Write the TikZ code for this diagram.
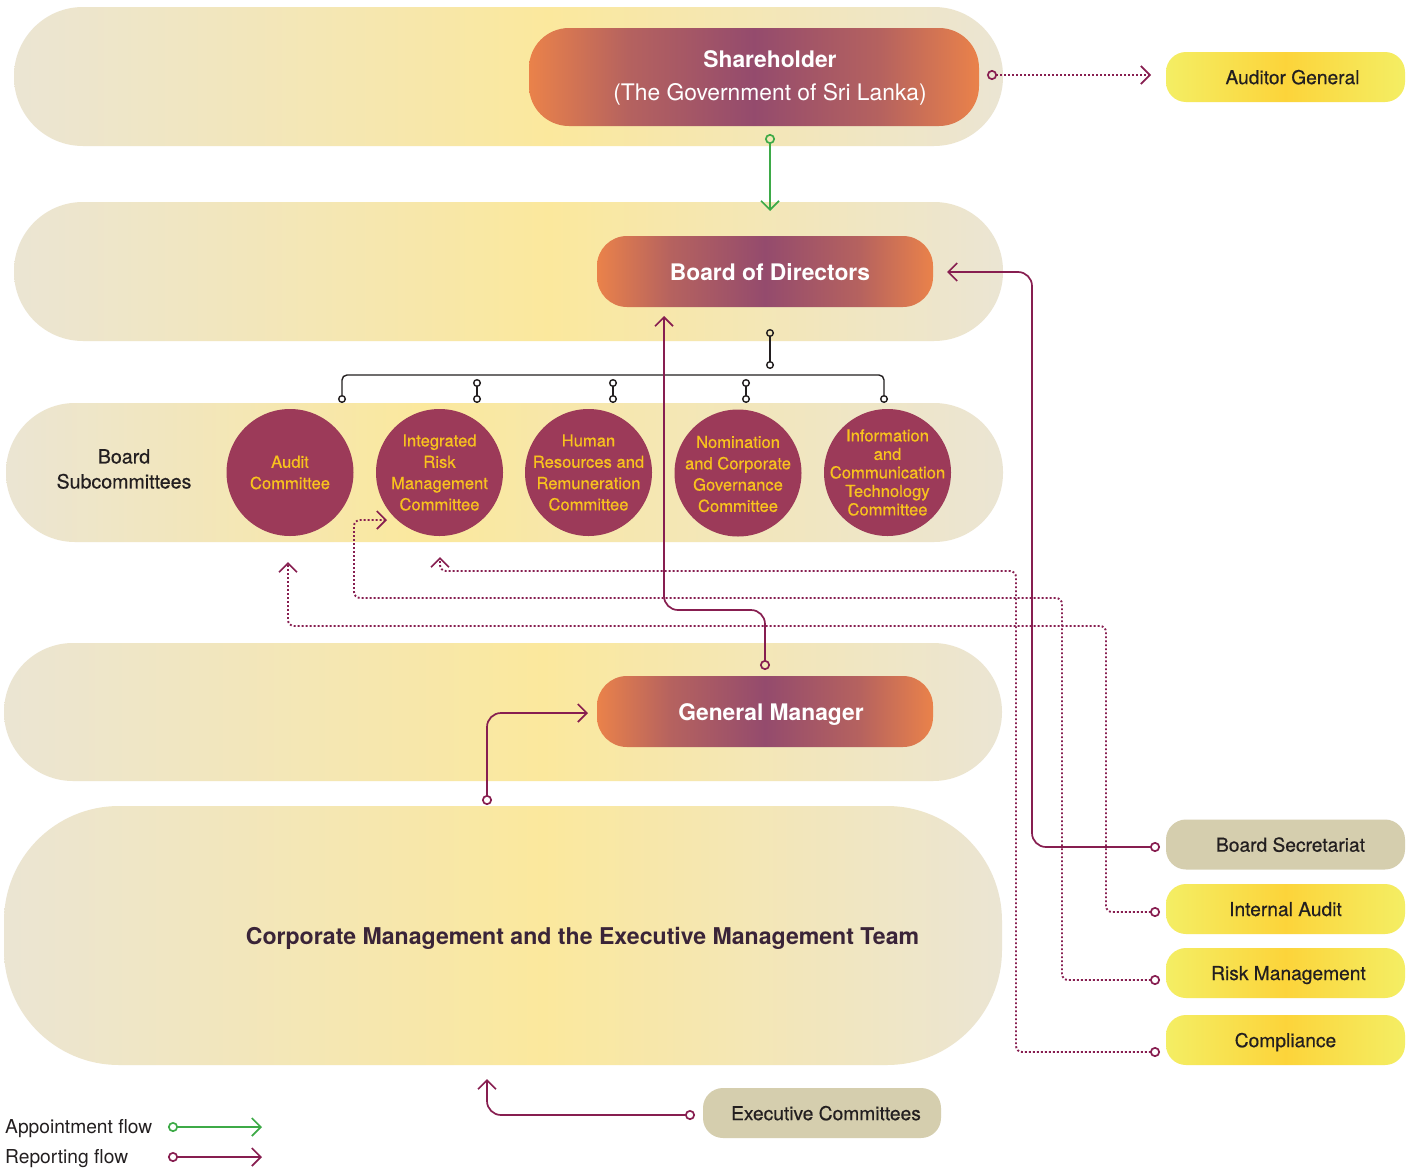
\documentclass[tikz,border=0pt]{standalone}
\usepackage{fontspec}
\setmainfont{TeX Gyre Heros}
\newfontfamily\mediumfont[FakeBold=0.45]{TeX Gyre Heros}
\usetikzlibrary{arrows.meta}

\definecolor{bandBeige}{HTML}{EBE5D3}
\definecolor{bandYel}{HTML}{FBE89D}
\definecolor{pillOrange}{HTML}{EA824A}
\definecolor{pillMauve}{HTML}{B5625F}
\definecolor{pillPurple}{HTML}{944B6D}
\definecolor{ylwEdge}{HTML}{F4EE64}
\definecolor{ylwMid}{HTML}{FCD43A}
\definecolor{boxTan}{HTML}{D5CEAE}
\definecolor{commFill}{HTML}{9C3A59}
\definecolor{commText}{HTML}{F8C21E}
\definecolor{flowMaroon}{HTML}{871E50}
\definecolor{flowGreen}{HTML}{3DAA47}
\definecolor{ink}{HTML}{231F20}
\definecolor{inkPurple}{HTML}{3A2438}

\pgfdeclarehorizontalshading{bandshade}{100bp}{color(0bp)=(bandBeige); color(25bp)=(bandBeige); color(52bp)=(bandYel); color(75bp)=(bandBeige); color(100bp)=(bandBeige)}
\pgfdeclarehorizontalshading{bandshadeL}{100bp}{color(0bp)=(bandBeige); color(25bp)=(bandBeige); color(46bp)=(bandYel); color(75bp)=(bandBeige); color(100bp)=(bandBeige)}
\pgfdeclarehorizontalshading{pillshade}{100bp}{color(0bp)=(pillOrange); color(25bp)=(pillOrange); color(36bp)=(pillMauve); color(50bp)=(pillPurple); color(64bp)=(pillMauve); color(75bp)=(pillOrange); color(100bp)=(pillOrange)}
\pgfdeclarehorizontalshading{ylwshade}{100bp}{color(0bp)=(ylwEdge); color(25bp)=(ylwEdge); color(50bp)=(ylwMid); color(75bp)=(ylwEdge); color(100bp)=(ylwEdge)}

\tikzset{
  band/.style={shade, shading=bandshade, rounded corners=69},
  pill/.style={shade, shading=pillshade, inner sep=0pt},
  pilltext/.style={text=white, inner sep=0pt, align=center,
    font=\fontsize{22.8}{33}\selectfont\bfseries},
  ybox/.style={shade, shading=ylwshade, rounded corners=20, minimum width=239,
    minimum height=50, inner sep=0pt, text depth=0pt, text=ink,
    font=\fontsize{19.2}{22}\mediumfont},
  tbox/.style={fill=boxTan, rounded corners=20, minimum width=239,
    minimum height=50, inner sep=0pt, text depth=0pt, text=ink,
    font=\fontsize{19.2}{22}\mediumfont},
  commcircle/.style={circle, fill=commFill, minimum size=127, inner sep=0pt},
  commtext/.style={text=commText, align=center, inner sep=0pt,
    font=\fontsize{16.6}{21.3}\mediumfont},
  rep/.style={draw=flowMaroon, line width=1.7pt, rounded corners=14,
    {Circle[open,length=10pt,width=10pt]}-{Straight Barb[length=9pt,width=18pt]}},
  dotrep/.style={draw=flowMaroon, line width=1.9pt, dash pattern=on 1.9pt off 2.1pt,
    rounded corners=6,
    {Circle[open,length=10pt,width=10pt,line width=1.7pt]}-{Straight Barb[length=9pt,width=18pt,line width=1.7pt]}},
  appoint/.style={draw=flowGreen, line width=1.7pt,
    {Circle[open,length=10pt,width=10pt]}-{Straight Barb[length=9pt,width=18pt]}},
  link/.style={draw=ink, line width=1.4pt, rounded corners=5,
    {Circle[open,length=8pt,width=8pt]}-{Circle[open,length=8pt,width=8pt]}},
  legendtext/.style={anchor=west, text=ink, font=\fontsize{19.2}{22}\selectfont, inner sep=0pt},
}

\begin{document}
\begin{tikzpicture}[x=1pt,y=-1pt]
\useasboundingbox (0,0) rectangle (1413,1170);
\fill[white] (0,0) rectangle (1413,1170);

% background bands
\path[band] (14,7) rectangle (1003,146);
\path[band] (14,202) rectangle (1003,341);
\path[band, shading=bandshadeL] (6,403) rectangle (1003,542);
\path[band] (4,643) rectangle (1002,781);
\path[band, rounded corners=115] (4,806) rectangle (1002,1065);

% main bodies
\node[pill, minimum width=450, minimum height=98, rounded corners=40] (sh) at (754,77) {};
\node[pilltext] (shText) at (770,78) {Shareholder\\{\mdseries (The Government of Sri Lanka)}};
\node[pill, minimum width=336, minimum height=71, rounded corners=30] (bod) at (765,271.5) {};
\node[pilltext] (bodText) at (770,272) {Board of Directors};
\node[pill, minimum width=336, minimum height=71, rounded corners=30] (gm) at (765,711.5) {};
\node[pilltext] (gmText) at (771,715) {General Manager};

% side functions
\node[ybox] (ag) at (1285.5,77) {\hspace*{14pt}Auditor General};
\node[tbox] (bs) at (1285.5,844.5) {\hspace*{10pt}Board Secretariat};
\node[ybox] (ia) at (1285.5,909) {Internal Audit};
\node[ybox] (rm) at (1285.5,973) {\hspace*{6pt}Risk Management};
\node[ybox] (co) at (1285.5,1040) {Compliance};
\node[tbox, minimum width=238] (ec) at (822,1113) {\hspace*{8pt}Executive Committees};

% subcommittees
\node[text=ink, align=center, font=\fontsize{19.6}{25}\mediumfont] (bsc) at (124,469) {Board\\Subcommittees};
\node[commcircle] (c1) at (290,472.5) {};
\node[commcircle] (c2) at (439.5,472.5) {};
\node[commcircle] (c3) at (588.5,472.5) {};
\node[commcircle] (c4) at (738,473) {};
\node[commcircle] (c5) at (887.5,472.5) {};
\node[commtext] (c1t) at (c1) {Audit\\Committee};
\node[commtext] (c2t) at (c2) {Integrated\\Risk\\Management\\Committee};
\node[commtext] (c3t) at (c3) {Human\\Resources and\\Remuneration\\Committee};
\node[commtext] (c4t) at ([yshift=-1pt]c4) {Nomination\\and Corporate\\Governance\\Committee};
\node[commtext, font=\fontsize{16.6}{18.5}\mediumfont] (c5t) at (c5) {Information\\and\\Communication\\Technology\\Committee};

% management team
\node[text=inkPurple, font=\fontsize{23.1}{27}\selectfont\bfseries] (cm) at (582.5,938)
  {Corporate Management and the Executive Management Team};

% legend
\node[legendtext] (lgA) at (5,1129) {Appointment flow};
\node[legendtext] (lgR) at (5,1159) {Reporting flow};

% connector end points
\coordinate (shOut) at (770,134);
\coordinate (bodIn) at (770,211);
\coordinate (agFrom) at (987,75);
\coordinate (agTo) at (1151,75);
\coordinate (bodT1) at (770,329);
\coordinate (bodT2) at (770,369);
\coordinate (barL) at (342,403);
\coordinate (barR) at (884,403);
\coordinate (g2a) at (477,379);  \coordinate (g2b) at (477,403);
\coordinate (g3a) at (613,379);  \coordinate (g3b) at (613,403);
\coordinate (g4a) at (746,379);  \coordinate (g4b) at (746,403);
\coordinate (gmUp) at (765,670);
\coordinate (bodBot) at (664,316);
\coordinate (bsOut) at (1160,847);
\coordinate (bodRight) at (947,272);
\coordinate (ecOut) at (695,1115);
\coordinate (cmTop) at (487,1079);
\coordinate (cmOut) at (487,805);
\coordinate (gmLeft) at (588,713);
\coordinate (coOut) at (1160,1052);
\coordinate (c2Bot) at (440,557);
\coordinate (rmOut) at (1160,980);
\coordinate (c2Left) at (387,520);
\coordinate (iaOut) at (1160,912);
\coordinate (c1Bot) at (288,562);
\coordinate (lgAa) at (168,1127);  \coordinate (lgAb) at (262,1127);
\coordinate (lgRa) at (168,1157);  \coordinate (lgRb) at (262,1157);

% committee links
\draw[link] (bodT1) -- (bodT2);
\draw[link] (barL) -- (342,375) -- (884,375) -- (barR);
\draw[link] (g2a) -- (g2b);
\draw[link] (g3a) -- (g3b);
\draw[link] (g4a) -- (g4b);

% appointment
\draw[appoint] (shOut) -- (bodIn);

% reporting lines
\draw[dotrep, rounded corners=0] (agFrom) -- (agTo);
\draw[rep] (gmUp) -- (765,610) -- (664,610) -- (bodBot);
\draw[rep] (bsOut) -- (1032,847) -- (1032,272) -- (bodRight);
\draw[rep] (ecOut) -- (487,1115) -- (cmTop);
\draw[rep] (cmOut) -- (487,713) -- (gmLeft);
\draw[dotrep] (coOut) -- (1016,1052) -- (1016,571) -- (440,571) -- (c2Bot);
\draw[dotrep] (rmOut) -- (1062,980) -- (1062,598) -- (354,598) -- (354,520) -- (c2Left);
\draw[dotrep] (iaOut) -- (1106,912) -- (1106,626) -- (288,626) -- (c1Bot);

% legend lines
\draw[appoint] (lgAa) -- (lgAb);
\draw[rep] (lgRa) -- (lgRb);
\end{tikzpicture}
\end{document}
